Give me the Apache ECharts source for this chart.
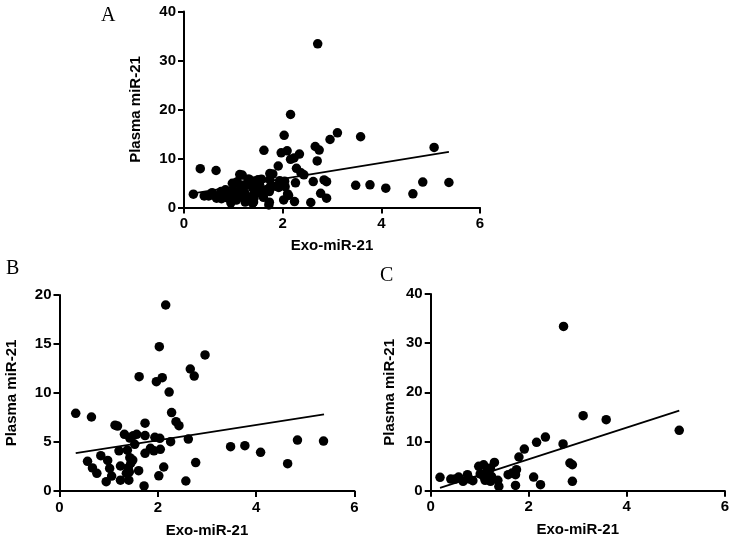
<!DOCTYPE html>
<html>
<head>
<meta charset="utf-8">
<script src="https://cdn.jsdelivr.net/npm/echarts@6/dist/echarts.min.js"></script>
<style>
html,body{margin:0;padding:0;background:#fff;}
#chart{width:732px;height:542px;}
</style>
</head>
<body>
<div id="chart"></div>
<script>
// Panel B points: [Exo-miR-21, Plasma miR-21]
var pointsB = [
[0.33,7.93],[0.65,7.55],[0.57,3.03],[0.67,2.35],[0.76,1.8],[0.84,3.6],[0.95,0.95],[0.98,3.12],[1.02,2.3],[1.06,1.52],
[1.13,6.72],[1.18,6.62],[1.21,4.1],[1.24,1.1],[1.24,2.55],[1.32,5.78],[1.38,4.16],[1.40,2.38],[1.41,1.1],[1.42,1.95],
[1.36,1.8],[1.43,5.4],[1.43,3.4],[1.49,3.16],[1.45,2.83],[1.53,4.76],[1.50,5.64],[1.57,5.78],[1.62,11.67],[1.61,2.07],
[1.72,0.52],[1.74,6.92],[1.74,5.66],[1.74,3.84],[1.85,4.35],[1.92,4.1],[1.94,5.48],[1.97,11.16],[2.02,1.55],[2.03,14.73],
[2.04,5.37],[2.05,4.25],[2.09,11.56],[2.12,2.45],[2.16,18.98],[2.23,10.1],[2.26,5.03],[2.28,8.0],[2.37,7.07],[2.43,6.66],
[2.57,1.02],[2.62,5.3],[2.66,12.45],[2.74,11.73],[2.77,2.9],[2.96,13.88],[3.48,4.52],[3.77,4.63],[4.09,3.95],[4.64,2.79],
[4.84,5.2],[5.37,5.1]
];
// Panel C points
var pointsC = [
[0.19,2.71],[0.41,2.37],[0.50,2.37],[0.57,2.78],[0.66,1.9],[0.75,3.25],[0.79,2.37],[0.86,2.03],[0.98,4.95],[1.08,5.28],
[1.01,3.4],[1.08,2.9],[1.15,4.27],[1.18,3.6],[1.11,2.1],[1.22,4.6],[1.30,5.76],[1.22,1.9],[1.24,2.9],[1.37,2.1],
[1.39,0.87],[1.58,3.25],[1.66,3.6],[1.75,4.27],[1.73,3.25],[1.73,1.08],[1.80,6.85],[1.91,8.47],[2.10,2.78],[2.16,9.83],
[2.24,1.22],[2.34,10.9],[2.70,9.5],[2.71,33.4],[2.84,5.63],[2.89,5.28],[2.89,1.9],[3.11,15.25],[3.58,14.44],[5.07,12.27]
];
// Panel A shows all samples (B and C together)
var pointsA = pointsB.concat(pointsC);

// Fitted lines (endpoints)
var fitA = [[0.19,2.86],[5.37,11.35]];
var fitB = [[0.33,3.87],[5.38,7.83]];
var fitC = [[0.19,0.58],[5.07,16.3]];

var xName = 'Exo-miR-21';
var yName = 'Plasma miR-21';
var panelLetters = ['A','B','C'];

var FONT = '"Liberation Sans", Arial, sans-serif';

function xAxisCfg(gi, gap){
  return {
    gridIndex: gi, type:'value', min:0, max:6, interval:2,
    name: xName, nameLocation:'middle', nameGap: gap,
    nameTextStyle:{color:'#000', fontWeight:'bold', fontSize:15, fontFamily:FONT},
    axisLine:{show:true, onZero:false, lineStyle:{color:'#000', width:2}},
    axisTick:{show:true, inside:false, length:6, lineStyle:{color:'#000', width:2}},
    axisLabel:{color:'#000', fontWeight:'bold', fontSize:15, fontFamily:FONT, margin:9},
    splitLine:{show:false}
  };
}
function yAxisCfg(gi, max, interval, gap){
  return {
    gridIndex: gi, type:'value', min:0, max:max, interval:interval,
    name: yName, nameLocation:'middle', nameGap: gap, nameRotate:90,
    nameTextStyle:{color:'#000', fontWeight:'bold', fontSize:15, fontFamily:FONT},
    axisLine:{show:true, onZero:false, lineStyle:{color:'#000', width:2}},
    axisTick:{show:true, inside:false, length:6, lineStyle:{color:'#000', width:2}},
    axisLabel:{color:'#000', fontWeight:'bold', fontSize:15, fontFamily:FONT, margin:8},
    splitLine:{show:false}
  };
}
function scatter(i, data){
  return {type:'scatter', xAxisIndex:i, yAxisIndex:i, data:data, symbolSize:9.5,
    itemStyle:{color:'#000', opacity:1}, silent:true, z:3};
}
function fit(i, data){
  return {type:'line', xAxisIndex:i, yAxisIndex:i, data:data, symbol:'none',
    lineStyle:{color:'#000', width:1.8}, silent:true, z:4};
}

var chart = echarts.init(document.getElementById('chart'), null, {renderer:'canvas'});
chart.setOption({
  backgroundColor:'#fff',
  animation:false,
  grid:[
    {left:184, top:11.5, width:296, height:196},
    {left:59.5, top:295, width:295, height:196},
    {left:430.7, top:294, width:294.6, height:196.7}
  ],
  xAxis:[xAxisCfg(0,31), xAxisCfg(1,32), xAxisCfg(2,32)],
  yAxis:[yAxisCfg(0,40,10,41), yAxisCfg(1,20,5,40), yAxisCfg(2,40,10,33)],
  series:[
    scatter(0, pointsA), fit(0, fitA),
    scatter(1, pointsB), fit(1, fitB),
    scatter(2, pointsC), fit(2, fitC)
  ],
  graphic:[
    {type:'text', left:101, top:6, style:{text:panelLetters[0], fill:'#000', font:'20px "Liberation Serif", "Times New Roman", serif'}},
    {type:'text', left:6, top:259, style:{text:panelLetters[1], fill:'#000', font:'20px "Liberation Serif", "Times New Roman", serif'}},
    {type:'text', left:380, top:266, style:{text:panelLetters[2], fill:'#000', font:'20px "Liberation Serif", "Times New Roman", serif'}}
  ]
});
</script>
</body>
</html>
